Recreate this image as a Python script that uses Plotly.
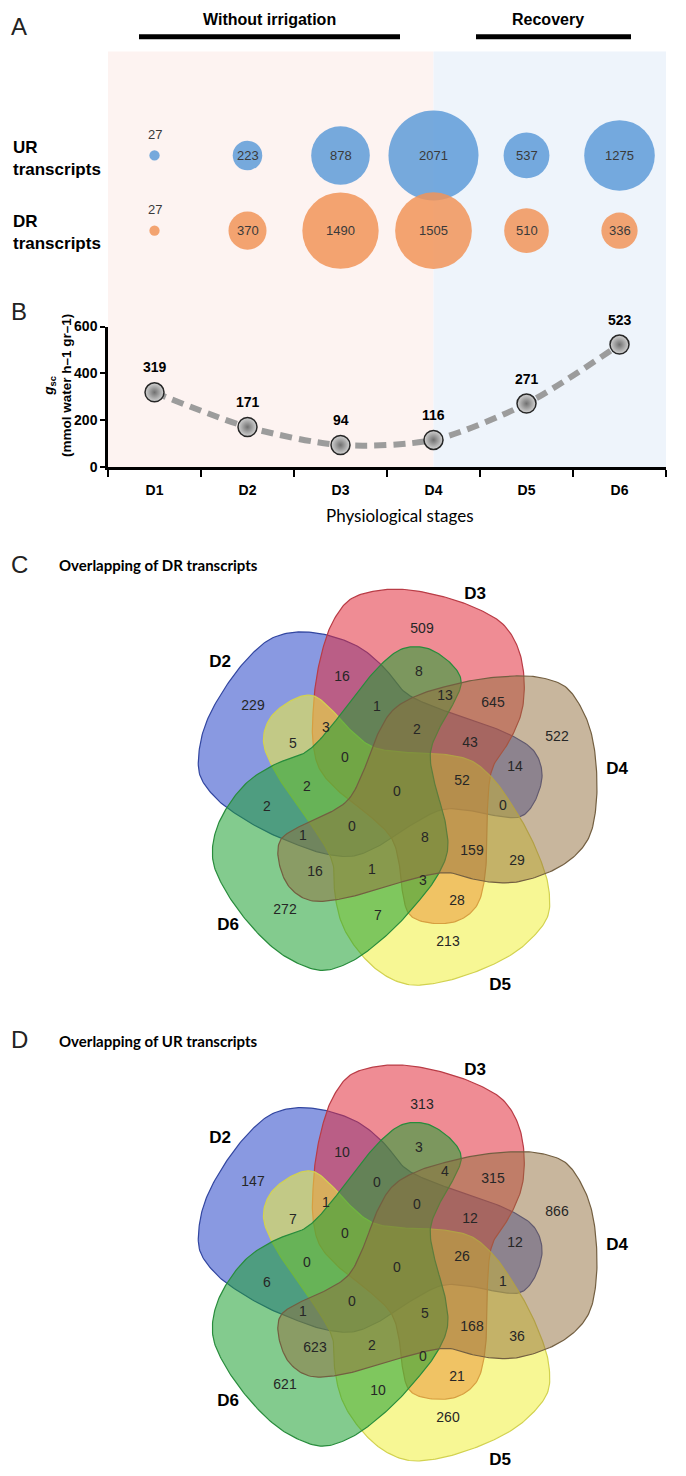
import numpy as np
import plotly.graph_objects as go

PAGE_W, PAGE_H = 686, 1476
OFF = 8                      # default body margin of the page
W, H = PAGE_W - OFF, PAGE_H - OFF

# ---------------- data ----------------
stages = ["D1", "D2", "D3", "D4", "D5", "D6"]
ur_transcripts = [27, 223, 878, 2071, 537, 1275]
dr_transcripts = [27, 370, 1490, 1505, 510, 336]
gsc_values = [319, 171, 94, 116, 271, 523]
gsc_ticks = [0, 200, 400, 600]

venn_sets = ["D3", "D4", "D5", "D6", "D2"]  # clockwise from top
# counts per Venn region (same region order for both diagrams)
dr_overlap = [509, 16, 8, 229, 13, 645, 1, 3, 2, 43, 522, 5, 0, 14, 52, 2,
              0, 0, 2, 1, 0, 8, 159, 29, 16, 1, 3, 28, 272, 7, 213]
ur_overlap = [313, 10, 3, 147, 4, 315, 0, 1, 0, 12, 866, 7, 0, 12, 26, 0,
              0, 1, 6, 1, 0, 5, 168, 36, 623, 2, 0, 21, 621, 10, 260]

# ---------------- layout helpers (page pixels) ----------------
X0, X1 = 108, 666          # plot area of panels A/B
def px(x): return (x - OFF) / W
def py(y): return 1 - (y - OFF) / H

# region label offsets from the Venn centre (pixels, y down)
region_off = [(25, -162), (-55, -113), (22, -118), (-144, -84), (48, -94), (96, -87),
              (-20, -83), (-71, -62), (20, -60), (73, -46), (160, -53), (-104, -45),
              (-52, -31), (118, -22), (65, -8), (-90, -2), (0, 3), (106, 17),
              (-130, 18), (-94, 48), (-45, 38), (28, 50), (75, 63), (120, 73),
              (-82, 84), (-25, 82), (26, 93), (60, 113), (-112, 122), (-19, 128),
              (51, 155)]
set_label_off = {"D2": (-177, -128), "D3": (78, -197), "D4": (220, -20),
                 "D5": (103, 198), "D6": (-169, 138)}
# template outline of one petal (the top one), relative to centre
petal = [(-84, -77), (-81, -110), (-74, -143), (-64, -170), (-47, -192), (-20, -201),
         (10, -202), (46, -195), (80, -183), (106, -167), (121, -143), (127, -113),
         (125, -80), (113, -50), (96, -23), (91, 7), (90, 47), (88, 87), (80, 117),
         (60, 133), (33, 135), (13, 127), (6, 107), (3, 80), (-5, 50), (-27, 27),
         (-57, 3), (-77, -20), (-84, -47)]
set_style = {
    "D2": ("rgba(40,70,200,0.55)", "rgb(50,70,160)"),
    "D3": ("rgba(225,45,60,0.55)", "rgb(185,60,70)"),
    "D4": ("rgba(145,110,60,0.5)", "rgb(115,95,65)"),
    "D5": ("rgba(240,240,60,0.55)", "rgb(210,210,80)"),
    "D6": ("rgba(30,160,50,0.55)", "rgb(40,140,60)"),
}
draw_order = ["D2", "D3", "D5", "D6", "D4"]


def catmull_closed(pts, n=14):
    P = np.array(pts, float)
    N = len(P)
    out = []
    for i in range(N):
        p0, p1, p2, p3 = P[(i - 1) % N], P[i], P[(i + 1) % N], P[(i + 2) % N]
        for t in np.linspace(0, 1, n, endpoint=False):
            t2, t3 = t * t, t * t * t
            out.append(0.5 * ((2 * p1) + (-p0 + p2) * t + (2 * p0 - 5 * p1 + 4 * p2 - p3) * t2
                              + (-p0 + 3 * p1 - 3 * p2 + p3) * t3))
    out.append(out[0])
    return np.array(out)


def rot(pts, deg):
    a = np.deg2rad(deg)
    c, s = np.cos(a), np.sin(a)
    return np.column_stack([pts[:, 0] * c - pts[:, 1] * s, pts[:, 0] * s + pts[:, 1] * c])


petal_curve = catmull_closed(petal)

fig = go.Figure()

# ---------------- panel A: bubbles ----------------
max_c = max(ur_transcripts + dr_transcripts)
sizeref = 2 * max_c / 90 ** 2
rows = [(ur_transcripts, 1, "rgb(94,155,216)"), (dr_transcripts, 0, "rgb(241,148,89)")]
annotations = []
for vals, yrow, col in rows:
    fig.add_trace(go.Scatter(
        x=stages, y=[yrow] * len(stages), mode="markers", xaxis="x", yaxis="y",
        marker=dict(size=vals, sizemode="area", sizeref=sizeref, sizemin=2,
                    color=col, opacity=0.85, line=dict(width=0)),
        cliponaxis=False, hoverinfo="skip"))
    for st, v in zip(stages, vals):
        annotations.append(dict(
            x=st, y=yrow, xref="x", yref="y", text=str(v), showarrow=False,
            yshift=21 if v < 100 else 0,
            font=dict(family="Liberation Sans Narrow, Arial Narrow, Liberation Sans",
                      size=13, color="#3a3a3a")))

# ---------------- panel B: line ----------------
fig.add_trace(go.Scatter(
    x=stages, y=gsc_values, mode="lines", xaxis="x2", yaxis="y2",
    line=dict(color="#9c9c9c", width=6, dash="12px,7px", shape="spline", smoothing=0.8),
    cliponaxis=False, hoverinfo="skip"))
fig.add_trace(go.Scatter(
    x=stages, y=gsc_values, mode="markers", xaxis="x2", yaxis="y2",
    marker=dict(size=19, color="#d4d4d4",
                gradient=dict(type="radial", color="#707070"),
                line=dict(color="#262626", width=1.5)),
    cliponaxis=False, hoverinfo="skip"))
for st, v in zip(stages, gsc_values):
    annotations.append(dict(
        x=st, y=v, xref="x2", yref="y2", text=str(v), showarrow=False, yshift=25,
        font=dict(family="Liberation Sans", size=14, color="black", weight="bold")))

# ---------------- panels C and D: Venn ----------------
venn_panels = [(397, 790, dr_overlap), (397, 1271, ur_overlap)]
for cx, cy, counts in venn_panels:
    for name in draw_order:
        k = venn_sets.index(name)
        pts = rot(petal_curve, 72 * k)
        fill, lc = set_style[name]
        fig.add_trace(go.Scatter(
            x=pts[:, 0] + cx, y=pts[:, 1] + cy, mode="lines", fill="toself",
            fillcolor=fill, line=dict(color=lc, width=1.2), xaxis="x3", yaxis="y3",
            hoverinfo="skip"))
    fig.add_trace(go.Scatter(
        x=[cx + o[0] for o in region_off], y=[cy + o[1] for o in region_off],
        text=[str(c) for c in counts], mode="text", xaxis="x3", yaxis="y3",
        textfont=dict(family="Liberation Sans", size=14, color="#262626"),
        hoverinfo="skip"))
    for name in venn_sets:
        ox, oy = set_label_off[name]
        fig.add_trace(go.Scatter(
            x=[cx + ox], y=[cy + oy], text=[name], mode="text", xaxis="x3", yaxis="y3",
            textfont=dict(family="Liberation Sans", size=17, color="black", weight="bold"),
            hoverinfo="skip"))

# ---------------- text annotations ----------------
def ann(x, y, text, size, bold=False, family="Liberation Sans", xanchor="center",
        align="center", angle=0, color="black"):
    annotations.append(dict(
        x=px(x), y=py(y), xref="paper", yref="paper", text=text, showarrow=False,
        xanchor=xanchor, yanchor="middle", align=align, textangle=angle,
        font=dict(family=family, size=size, color=color, weight="bold" if bold else "normal")))

for letter, yy in [("A", 19), ("B", 307), ("C", 563), ("D", 1043)]:
    ann(9, yy, letter, 24, color="#222", xanchor="left")
ann(269, 12, "Without irrigation", 16, bold=True)
ann(548, 12, "Recovery", 16, bold=True)
ann(11, 152, "UR<br>transcripts", 17, bold=True, xanchor="left", align="left")
ann(11, 227, "DR<br>transcripts", 17, bold=True, xanchor="left", align="left")
ann(58, 382, "<i>g</i><sub>sc</sub><br>(mmol water h–1 gr–1)", 13.5, bold=True, angle=-90)
ann(400, 513, "Physiological stages", 17, family="Lato")
ann(57, 563, "Overlapping of DR transcripts", 15, bold=True, family="Lato", xanchor="left")
ann(57, 1044, "Overlapping of UR transcripts", 15, bold=True, family="Lato", xanchor="left")

# ---------------- shapes ----------------
shapes = [
    dict(type="rect", xref="x", yref="paper", x0=-0.5, x1=3, y0=py(464), y1=py(44),
         fillcolor="#fdf3f1", line=dict(width=0), layer="below"),
    dict(type="rect", xref="x", yref="paper", x0=3, x1=5.5, y0=py(464), y1=py(44),
         fillcolor="#eef4fb", line=dict(width=0), layer="below"),
    dict(type="line", xref="paper", yref="paper", x0=px(139), x1=px(400), y0=py(29), y1=py(29),
         line=dict(color="black", width=5)),
    dict(type="line", xref="paper", yref="paper", x0=px(476), x1=px(631), y0=py(29), y1=py(29),
         line=dict(color="black", width=5)),
]

tickfont = dict(family="Liberation Sans", size=14, color="black", weight="bold")
fig.update_layout(
    width=W, height=H, margin=dict(l=0, r=0, t=0, b=0),
    paper_bgcolor="white", plot_bgcolor="rgba(0,0,0,0)", showlegend=False,
    xaxis=dict(domain=[px(X0), px(X1)], anchor="y", type="category",
               categoryorder="array", categoryarray=stages,
               range=[-0.5, 5.5], visible=False),
    yaxis=dict(domain=[py(290), py(45)], anchor="x", range=[-0.855, 2.368], visible=False),
    xaxis2=dict(domain=[px(X0), px(X1)], anchor="y2", type="category",
                categoryorder="array", categoryarray=stages, range=[-0.5, 5.5],
                showline=True, linewidth=2.5, linecolor="black", ticks="outside",
                tickson="boundaries", ticklen=7, tickwidth=2, tickcolor="black",
                tickfont=tickfont, ticklabelstandoff=8, showgrid=False, zeroline=False),
    yaxis2=dict(domain=[py(464), py(322)], anchor="x2", range=[0, 600],
                tickvals=gsc_ticks, showline=True, linewidth=2.5, linecolor="black",
                ticks="outside", ticklen=5, tickwidth=2, tickcolor="black",
                tickfont=tickfont, showgrid=False, zeroline=False),
    xaxis3=dict(domain=[0, 1], anchor="y3", range=[OFF, PAGE_W], visible=False),
    yaxis3=dict(domain=[0, 1], anchor="x3", range=[PAGE_H, OFF], visible=False),
    annotations=annotations, shapes=shapes,
)

fig.write_html("out.html")
